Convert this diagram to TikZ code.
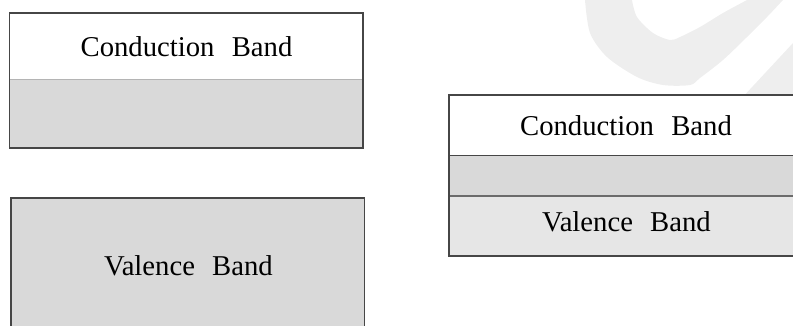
\documentclass[tikz,border=0pt]{standalone}
\usepackage{fontspec}
\setmainfont{Liberation Serif}
\definecolor{bandgray}{RGB}{217,217,217}
\definecolor{lightband}{RGB}{230,230,230}
\definecolor{wmark}{RGB}{238,238,238}
\definecolor{edge}{RGB}{70,70,70}
\definecolor{softline}{RGB}{180,180,180}
\tikzset{
  lbl/.style={anchor=base, inner sep=0pt, font=\fontsize{28.7}{34}\selectfont},
  outer/.style={draw=edge, line width=1.2pt},
}
\newcommand{\bandgap}{\hspace{0.6em}}
\begin{document}
\begin{tikzpicture}[x=1pt,y=-1pt]
\useasboundingbox (0,0) rectangle (793,325);
% watermark
\fill[wmark] plot[smooth] coordinates {(585,0) (590,33) (607,57) (637,77) (663,85) (690,85) (700,78) (723,60) (747,37) (767,17) (783,0)}
  -- (747,0) -- plot[smooth] coordinates {(747,0) (723,13) (700,27) (680,37) (670,40) (653,33) (637,17) (632,0)} -- cycle;
\fill[wmark] (793,43) -- (740,100) -- (793,100) -- cycle;
% left top box
\fill[white] (9.5,13) rectangle (363,79);
\fill[bandgray] (9.5,79) rectangle (363,148);
\draw[softline, line width=0.8pt] (9.5,79) -- (363,79);
\draw[outer] (9.5,13) rectangle (363,148);
\node[lbl] (cb1) at (186.5,56.5) {Conduction\bandgap Band};
% left bottom box
\fill[bandgray] (11,198) rectangle (364.5,330);
\draw[outer] (11,330) -- (11,198) -- (364.5,198) -- (364.5,330);
\node[lbl] (vb1) at (188.5,275) {Valence\bandgap Band};
% right box
\fill[white] (449,95) rectangle (803,155);
\fill[bandgray] (449,155) rectangle (803,196);
\fill[lightband] (449,196) rectangle (803,256);
\draw[edge, line width=0.9pt] (449,155) -- (803,155);
\draw[edge!80, line width=1.2pt] (449,196) -- (803,196);
\draw[outer] (449,95) rectangle (803,256);
\node[lbl] (cb2) at (626,135) {Conduction\bandgap Band};
\node[lbl] (vb2) at (626.5,231.7) {Valence\bandgap Band};
\end{tikzpicture}
\end{document}
